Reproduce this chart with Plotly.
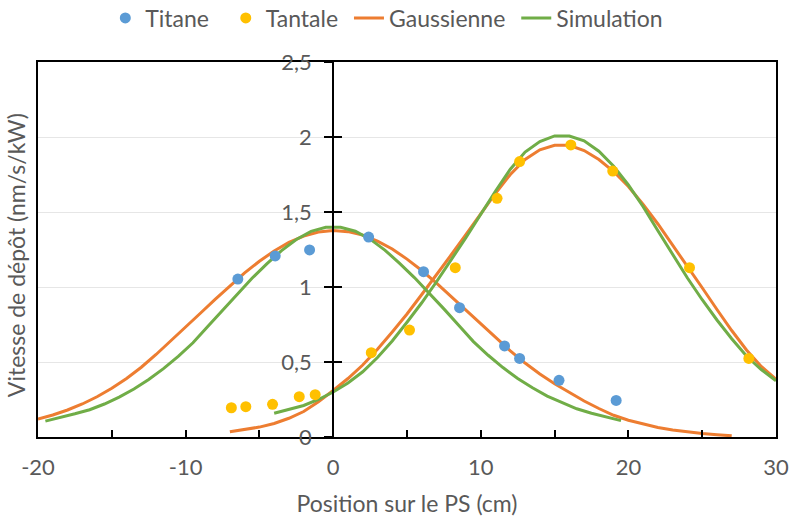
import plotly.graph_objects as go

# --- Measured deposition rates (nm/s/kW) versus position on the PS (cm) ---
titane_x = [-6.46, -3.93, -1.6, 2.4, 6.12, 8.56, 11.61, 12.63, 15.3, 19.17]
titane_y = [1.053, 1.207, 1.247, 1.333, 1.102, 0.862, 0.607, 0.524, 0.378, 0.244]

tantale_x = [-6.9, -5.92, -4.11, -2.3, -1.22, 2.58, 5.17, 8.27, 11.1, 12.63,
             16.1, 18.94, 24.14, 28.16]
tantale_y = [0.195, 0.202, 0.218, 0.269, 0.282, 0.562, 0.713, 1.129, 1.591, 1.836,
             1.947, 1.773, 1.129, 0.524]

# --- Gaussian fits ---
gauss_ti_x = list(range(-20, 28))
gauss_ti_y = [0.12, 0.147, 0.18, 0.22, 0.268, 0.325, 0.39, 0.465, 0.55, 0.64,
              0.733, 0.825, 0.918, 1.008, 1.094, 1.172, 1.24, 1.297, 1.339, 1.366,
              1.376, 1.369, 1.346, 1.306, 1.253, 1.186, 1.11, 1.026, 0.936, 0.844,
              0.751, 0.661, 0.574, 0.493, 0.42, 0.355, 0.295, 0.24, 0.19, 0.145,
              0.112, 0.085, 0.063, 0.046, 0.033, 0.023, 0.015, 0.008]

gauss_ta_x = list(range(-7, 31))
gauss_ta_y = [0.035, 0.048, 0.066, 0.09, 0.125, 0.17, 0.235, 0.31, 0.39, 0.48,
              0.585, 0.70, 0.82, 0.95, 1.08, 1.215, 1.35, 1.49, 1.625, 1.75,
              1.85, 1.915, 1.945, 1.945, 1.91, 1.85, 1.77, 1.67, 1.55, 1.42,
              1.28, 1.14, 0.995, 0.85, 0.71, 0.58, 0.47, 0.385]

# --- Simulated profiles ---
sim_ti_x = [v + 0.5 for v in range(-20, 20)]
sim_ti_y = [0.106, 0.128, 0.155, 0.182, 0.220, 0.266, 0.320, 0.383, 0.456, 0.537,
            0.628, 0.737, 0.845, 0.954, 1.058, 1.154, 1.243, 1.317, 1.371, 1.398,
            1.398, 1.372, 1.319, 1.246, 1.158, 1.063, 0.962, 0.854, 0.745, 0.636,
            0.545, 0.463, 0.390, 0.328, 0.273, 0.228, 0.188, 0.158, 0.131, 0.109]

sim_ta_x = list(range(-4, 31))
sim_ta_y = [0.158, 0.182, 0.21, 0.25, 0.30, 0.36, 0.435, 0.53, 0.64, 0.765,
            0.895, 1.035, 1.18, 1.33, 1.485, 1.64, 1.785, 1.9, 1.97, 2.007,
            2.007, 1.975, 1.905, 1.805, 1.68, 1.535, 1.375, 1.215, 1.06, 0.915,
            0.78, 0.655, 0.54, 0.45, 0.375]

# --- Axis ticks ---
x_tickvals = [-20, -15, -10, -5, 0, 5, 10, 15, 20, 25, 30]
x_ticktext = ["-20", "", "-10", "", "0", "", "10", "", "20", "", "30"]
y_tickvals = [0, 0.5, 1, 1.5, 2, 2.5]

BLUE = "#5B9BD5"
GOLD = "#FFC000"
ORANGE = "#ED7D31"
GREEN = "#70AD47"
GRAY = "#595959"
FONT = "Lato"
FS = 23      # titles and legend
FT = 22      # tick labels
NB = "\u00a0"   # extra spacing between legend entries

fig = go.Figure()

# fitted and simulated curves (drawn below the markers)
fig.add_trace(go.Scatter(x=gauss_ti_x, y=gauss_ti_y, mode="lines", name="Gaussienne" + NB,
                         line=dict(color=ORANGE, width=3), legendgroup="g", legendrank=3))
fig.add_trace(go.Scatter(x=gauss_ta_x, y=gauss_ta_y, mode="lines", name="Gaussienne",
                         line=dict(color=ORANGE, width=3), legendgroup="g", showlegend=False))
fig.add_trace(go.Scatter(x=sim_ti_x, y=sim_ti_y, mode="lines", name="Simulation",
                         line=dict(color=GREEN, width=3), legendgroup="s", legendrank=4))
fig.add_trace(go.Scatter(x=sim_ta_x, y=sim_ta_y, mode="lines", name="Simulation",
                         line=dict(color=GREEN, width=3), legendgroup="s", showlegend=False))

# measurements
fig.add_trace(go.Scatter(x=titane_x, y=titane_y, mode="markers", name="Titane" + NB * 2,
                         marker=dict(color=BLUE, size=11), legendrank=1))
fig.add_trace(go.Scatter(x=tantale_x, y=tantale_y, mode="markers", name="Tantale" + NB,
                         marker=dict(color=GOLD, size=11), legendrank=2))

# empty traces so the crossing y axis (at x = 0) is rendered
fig.add_trace(go.Scatter(x=[None], y=[None], yaxis="y2", showlegend=False, hoverinfo="skip"))
fig.add_trace(go.Scatter(x=[None], y=[None], yaxis="y3", showlegend=False, hoverinfo="skip"))

x_min, x_max = -20, 30
y_pos = (0 - x_min) / (x_max - x_min)

fig.update_layout(
    width=791, height=517,
    margin=dict(l=38, r=15, t=62, b=80, autoexpand=False),
    paper_bgcolor="white", plot_bgcolor="white",
    separators=", ",
    font=dict(family=FONT, size=FS, color=GRAY),
    showlegend=True,
    legend=dict(orientation="h", xref="container", yref="container",
                x=0.489, xanchor="center", y=1 - 18 / 517, yanchor="middle",
                font=dict(family=FONT, size=FS, color=GRAY), bgcolor="rgba(0,0,0,0)",
                traceorder="normal"),
    xaxis=dict(range=[x_min, x_max], tickmode="array", tickvals=x_tickvals, ticktext=x_ticktext,
               ticks="inside", ticklen=7, tickwidth=2, tickcolor="black",
               showline=True, linecolor="black", linewidth=2, mirror=True,
               showgrid=False, zeroline=False, anchor="y",
               ticklabelstandoff=10,
               tickfont=dict(family=FONT, size=FT, color=GRAY),
               title=dict(text="Position sur le PS (cm)", standoff=16,
                          font=dict(family=FONT, size=FS, color=GRAY))),
    yaxis=dict(range=[0, 2.5], tickmode="array", tickvals=y_tickvals,
               showticklabels=False, ticks="",
               showline=True, linecolor="black", linewidth=2, mirror=True,
               showgrid=True, gridcolor="#e6e6e6", gridwidth=1, zeroline=False),
    yaxis2=dict(range=[0, 2.5], overlaying="y", anchor="free", position=y_pos, side="left",
                tickmode="array", tickvals=y_tickvals,
                ticks="outside", ticklen=8, tickwidth=2, tickcolor="black",
                showline=True, linecolor="black", linewidth=2,
                showgrid=False, zeroline=False, ticklabelstandoff=8,
                tickfont=dict(family=FONT, size=FT, color=GRAY)),
    yaxis3=dict(range=[0, 2.5], overlaying="y", anchor="free", position=y_pos, side="left",
                tickmode="array", tickvals=y_tickvals,
                ticks="inside", ticklen=8, tickwidth=2, tickcolor="black",
                showline=False, showticklabels=False, showgrid=False, zeroline=False),
    annotations=[dict(text="Vitesse de dépôt (nm/s/kW)", textangle=-90,
                      xref="paper", yref="paper", x=-0.0298, y=0.485,
                      xanchor="center", yanchor="middle", showarrow=False,
                      font=dict(family=FONT, size=FS, color=GRAY))],
)

fig.write_html("out.html")
